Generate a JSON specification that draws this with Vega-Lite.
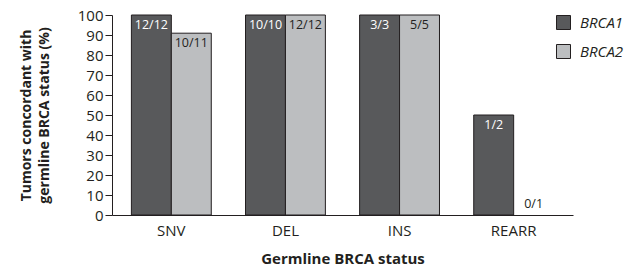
{
  "$schema": "https://vega.github.io/schema/vega-lite/v6.json",
  "width": 461,
  "height": 200,
  "autosize": "none",
  "padding": {"left": 112, "top": 15, "right": 67, "bottom": 53},
  "background": "white",
  "config": {
    "view": {"stroke": null},
    "font": "Open Sans",
    "axis": {"domainColor": "#231f20", "tickColor": "#231f20", "labelColor": "#231f20", "titleColor": "#231f20", "grid": false}
  },
  "data": {
    "values": [
      {"type": "SNV", "gene": "BRCA1", "pct": 100, "label": "12/12"},
      {"type": "SNV", "gene": "BRCA2", "pct": 90.9, "label": "10/11"},
      {"type": "DEL", "gene": "BRCA1", "pct": 100, "label": "10/10"},
      {"type": "DEL", "gene": "BRCA2", "pct": 100, "label": "12/12"},
      {"type": "INS", "gene": "BRCA1", "pct": 100, "label": "3/3"},
      {"type": "INS", "gene": "BRCA2", "pct": 100, "label": "5/5"},
      {"type": "REARR", "gene": "BRCA1", "pct": 50, "label": "1/2"},
      {"type": "REARR", "gene": "BRCA2", "pct": 0, "label": "0/1"}
    ]
  },
  "encoding": {
    "x": {
      "field": "type", "type": "nominal", "sort": ["SNV", "DEL", "INS", "REARR"],
      "scale": {"paddingInner": 0.3, "paddingOuter": 0.17},
      "axis": {"title": "Germline BRCA status", "labelAngle": 0, "ticks": false, "labelFontSize": 15, "labelPadding": 8, "titleFontSize": 15, "titleFontWeight": "bold", "titlePadding": 13}
    },
    "xOffset": {"field": "gene", "type": "nominal", "sort": ["BRCA1", "BRCA2"], "scale": {"paddingInner": 0, "paddingOuter": 0}},
    "y": {
      "field": "pct", "type": "quantitative",
      "scale": {"domain": [0, 100], "nice": false},
      "axis": {"title": ["Tumors concordant with", "germline BRCA status (%)"], "values": [0,10,20,30,40,50,60,70,80,90,100], "tickSize": 7, "labelFontSize": 15, "labelPadding": 2, "titleFontSize": 14, "titleFontWeight": "bold", "titlePadding": 26, "titleLineHeight": 18}
    }
  },
  "layer": [
    {
      "transform": [{"filter": "datum.pct > 0"}],
      "mark": {"type": "bar", "stroke": "#231f20", "strokeWidth": 1},
      "encoding": {
        "color": {
          "field": "gene", "type": "nominal",
          "scale": {"domain": ["BRCA1", "BRCA2"], "range": ["#58595b", "#bcbec0"]},
          "legend": {"title": null, "orient": "none", "legendX": 444, "legendY": 0, "padding": 0, "symbolType": "square", "symbolSize": 196, "symbolStrokeColor": "#231f20", "symbolStrokeWidth": 1, "labelFontSize": 15, "labelFontStyle": "italic", "labelColor": "#231f20", "rowPadding": 10, "labelOffset": 9}
        }
      }
    },
    {
      "transform": [{"filter": "datum.pct > 0"}],
      "mark": {"type": "text", "baseline": "top", "dy": 4, "fontSize": 12.5},
      "encoding": {
        "text": {"field": "label"},
        "color": {"condition": {"test": "datum.gene === 'BRCA1'", "value": "white"}, "value": "#231f20"}
      }
    },
    {
      "transform": [{"filter": "datum.pct === 0"}],
      "mark": {"type": "text", "baseline": "bottom", "dy": -4, "fontSize": 12.5, "color": "#231f20"},
      "encoding": {
        "text": {"field": "label"}
      }
    }
  ]
}
